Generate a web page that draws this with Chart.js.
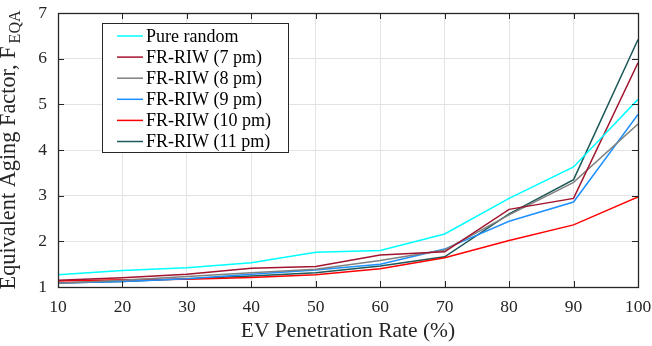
<!DOCTYPE html>
<html>
<head>
<meta charset="utf-8">
<script src="https://cdn.jsdelivr.net/npm/chart.js@4.4.0/dist/chart.umd.min.js"></script>
<style>
  html, body { margin: 0; padding: 0; background: #fff; }
  #wrap { width: 652px; height: 346px; }
</style>
</head>
<body>
<div id="wrap"><canvas id="c" width="652" height="346"></canvas></div>
<script>
const penetration = [10, 20, 30, 40, 50, 60, 70, 80, 90, 100];
const pureRandom = [1.27, 1.36, 1.42, 1.53, 1.76, 1.80, 2.16, 2.94, 3.63, 5.11];
const riw7pm  = [1.15, 1.20, 1.28, 1.41, 1.45, 1.70, 1.77, 2.70, 2.94, 5.91];
const riw8pm  = [1.08, 1.15, 1.23, 1.31, 1.39, 1.58, 1.81, 2.58, 3.29, 4.57];
const riw9pm  = [1.09, 1.12, 1.18, 1.28, 1.37, 1.50, 1.83, 2.44, 2.86, 4.78];
const riw10pm = [1.13, 1.16, 1.17, 1.21, 1.27, 1.40, 1.64, 2.02, 2.36, 2.97];
const riw11pm = [1.09, 1.12, 1.18, 1.24, 1.31, 1.46, 1.66, 2.60, 3.35, 6.42];
const yTicks = [1, 2, 3, 4, 5, 6, 7];

const seriesNames = ['Pure random', 'FR-RIW (7 pm)', 'FR-RIW (8 pm)', 'FR-RIW (9 pm)', 'FR-RIW (10 pm)', 'FR-RIW (11 pm)'];
const seriesData = [pureRandom, riw7pm, riw8pm, riw9pm, riw10pm, riw11pm];
const seriesColors = ['#00ffff', '#a2142f', '#808080', '#1e90ff', '#ff0000', '#1d5858'];
const xTitle = 'EV Penetration Rate (%)';
const yTitleMain = 'Equivalent Aging Factor, F';
const yTitleSub = 'EQA';

const FONT = '"Liberation Serif", "Times New Roman", serif';
const AX = '#262626';

const datasets = seriesNames.map((n, i) => ({
  label: n,
  data: penetration.map((x, j) => ({ x: x, y: seriesData[i][j] })),
  borderColor: seriesColors[i],
  backgroundColor: seriesColors[i],
  borderWidth: 1.5,
  pointRadius: 0,
  tension: 0,
  fill: false
}));

const framePlugin = {
  id: 'frame',
  afterDraw(chart) {
    const ctx = chart.ctx;
    const a = chart.chartArea;
    const xs = chart.scales.x, ys = chart.scales.y;
    ctx.save();
    ctx.strokeStyle = AX;
    ctx.lineWidth = 1;
    ctx.beginPath();
    penetration.forEach(v => {
      const px = Math.round(xs.getPixelForValue(v)) + 0.5;
      ctx.moveTo(px, a.bottom); ctx.lineTo(px, a.bottom - 6);
      ctx.moveTo(px, a.top); ctx.lineTo(px, a.top + 6);
    });
    yTicks.forEach(v => {
      const py = Math.round(ys.getPixelForValue(v)) + 0.5;
      ctx.moveTo(a.left, py); ctx.lineTo(a.left + 6, py);
      ctx.moveTo(a.right, py); ctx.lineTo(a.right - 6, py);
    });
    ctx.stroke();
    ctx.lineWidth = 1.3;
    ctx.strokeRect(Math.round(a.left) + 0.5, Math.round(a.top) + 0.5, Math.round(a.right - a.left), Math.round(a.bottom - a.top));

    // x axis title
    ctx.fillStyle = AX;
    ctx.font = '21.5px ' + FONT;
    ctx.textAlign = 'center';
    ctx.textBaseline = 'alphabetic';
    ctx.fillText(xTitle, (a.left + a.right) / 2, 337);

    // y axis title with subscript
    ctx.font = '22.3px ' + FONT;
    const wMain = ctx.measureText(yTitleMain).width;
    ctx.font = '16px ' + FONT;
    const wSub = ctx.measureText(yTitleSub).width;
    const total = wMain + 3 + wSub;
    const cy = (a.top + a.bottom) / 2;
    ctx.translate(15, cy);
    ctx.rotate(-Math.PI / 2);
    ctx.textAlign = 'left';
    ctx.font = '22.3px ' + FONT;
    ctx.fillText(yTitleMain, -total / 2, 0);
    ctx.font = '16px ' + FONT;
    ctx.fillText(yTitleSub, -total / 2 + wMain + 3, 5);
    ctx.restore();

    // legend
    ctx.save();
    const lx = 102, ly = 23, lw = 186, lh = 129;
    ctx.fillStyle = '#ffffff';
    ctx.fillRect(lx, ly, lw, lh);
    ctx.strokeStyle = AX;
    ctx.lineWidth = 1;
    ctx.strokeRect(lx + 0.5, ly + 0.5, lw, lh);
    ctx.font = '18px ' + FONT;
    ctx.textBaseline = 'middle';
    ctx.textAlign = 'left';
    chart.data.datasets.forEach((ds, i) => {
      const y = 36 + i * 21.1;
      ctx.strokeStyle = ds.borderColor;
      ctx.lineWidth = 1.5;
      ctx.beginPath();
      ctx.moveTo(117, y); ctx.lineTo(143, y);
      ctx.stroke();
      ctx.fillStyle = '#000';
      ctx.fillText(ds.label, 146, y + 1);
    });
    ctx.restore();
  }
};

new Chart(document.getElementById('c'), {
  type: 'line',
  data: { datasets },
  options: {
    responsive: false,
    animation: false,
    devicePixelRatio: 1,
    layout: { padding: { left: 0, right: 14, top: 13, bottom: 0 } },
    plugins: { legend: { display: false }, tooltip: { enabled: false } },
    scales: {
      x: {
        type: 'linear',
        min: 10, max: 100,
        afterBuildTicks(s) { s.ticks = penetration.map(v => ({ value: v })); },
        afterFit(s) { s.height = 59; s.paddingLeft = 0; s.paddingRight = 0; },
        grid: { color: '#e3e3e3', lineWidth: 1, drawTicks: false },
        border: { display: false },
        ticks: { color: AX, font: { family: FONT, size: 17.5 }, padding: 10, maxRotation: 0 }
      },
      y: {
        type: 'linear',
        min: 1, max: 7,
        afterBuildTicks(s) { s.ticks = yTicks.map(v => ({ value: v })); },
        afterFit(s) { s.width = 58; s.paddingTop = 0; s.paddingBottom = 0; },
        grid: { color: '#e3e3e3', lineWidth: 1, drawTicks: false },
        border: { display: false },
        ticks: { color: AX, font: { family: FONT, size: 17.5 }, padding: 11 }
      }
    }
  },
  plugins: [framePlugin]
});
</script>
</body>
</html>
